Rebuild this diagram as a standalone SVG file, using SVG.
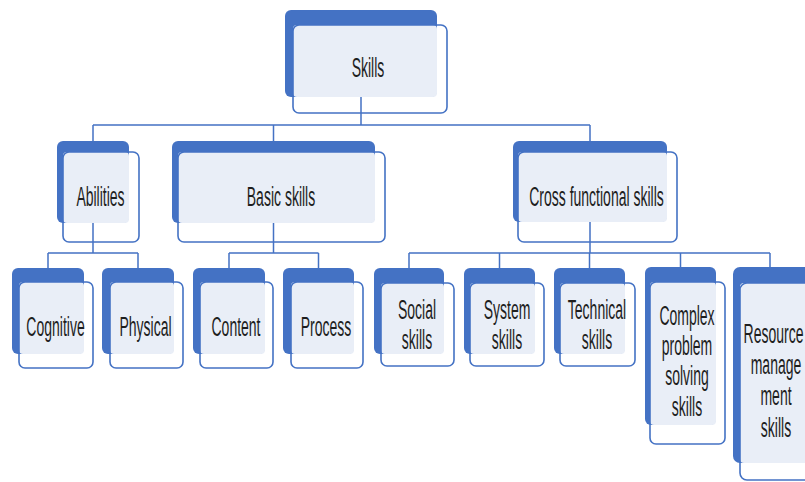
<svg xmlns="http://www.w3.org/2000/svg" width="805" height="482" viewBox="0 0 805 482">
  <style>
    .back { fill: #4472C4; }
    .tint { fill: #E9EEF7; }
    .front { fill: none; stroke: #4472C4; stroke-width: 1.6; }
    .link { fill: none; stroke: #4472C4; stroke-width: 1.5; }
    .lbl { font-family: "Liberation Sans", Arial, sans-serif; font-size: 14px; fill: #1e1e1e; text-anchor: middle; }
  </style>
  <rect width="805" height="482" fill="#ffffff"/>

  <!-- connectors: parent bottom centre -> bus -> child top centre -->
  <g id="connectors">
    <path class="link" d="M361,97 V125 M93,125 H590 M93,125 V141 M273.5,125 V141 M590,125 V141"/>
    <path class="link" d="M93,223 V253 M48,253 H138 M48,253 V268 M138,253 V268"/>
    <path class="link" d="M273.5,223 V253 M229,253 H318.5 M229,253 V268 M318.5,253 V268"/>
    <path class="link" d="M590,222 V253 M409,253 H770 M409,253 V268 M499.5,253 V268 M589.5,253 V268 M680.5,253 V268 M770,253 V268"/>
  </g>

  <!-- root -->
  <g id="node-skills">
    <rect class="back" x="285" y="10" width="152" height="87" rx="6"/>
    <rect class="tint" x="293" y="25" width="144" height="72" rx="4"/>
    <rect class="front" x="293" y="25" width="154" height="88" rx="6"/>
    <text class="lbl" transform="translate(368,77) scale(1,2)">Skills</text>
  </g>

  <!-- level 1 -->
  <g id="node-abilities">
    <rect class="back" x="57" y="141" width="72" height="82" rx="6"/>
    <rect class="tint" x="63" y="152" width="66" height="71" rx="4"/>
    <rect class="front" x="63" y="152" width="76" height="90" rx="6"/>
    <text class="lbl" transform="translate(100.5,206) scale(1,2)">Abilities</text>
  </g>
  <g id="node-basic-skills">
    <rect class="back" x="172" y="141" width="203" height="82" rx="6"/>
    <rect class="tint" x="178" y="152" width="197" height="71" rx="4"/>
    <rect class="front" x="178" y="152" width="207" height="90" rx="6"/>
    <text class="lbl" transform="translate(281,206) scale(1,2)">Basic skills</text>
  </g>
  <g id="node-cross-functional">
    <rect class="back" x="513" y="141" width="154" height="81" rx="6"/>
    <rect class="tint" x="518" y="152" width="149" height="70" rx="4"/>
    <rect class="front" x="518" y="152" width="159" height="90" rx="6"/>
    <text class="lbl" transform="translate(596.5,206) scale(1,2)">Cross functional skills</text>
  </g>

  <!-- level 2 -->
  <g id="node-cognitive">
    <rect class="back" x="12" y="268" width="72" height="86" rx="6"/>
    <rect class="tint" x="19" y="282" width="65" height="72" rx="4"/>
    <rect class="front" x="19" y="282" width="74" height="86" rx="6"/>
    <text class="lbl" transform="translate(55.5,336) scale(1,2)">Cognitive</text>
  </g>
  <g id="node-physical">
    <rect class="back" x="102" y="268" width="72" height="86" rx="6"/>
    <rect class="tint" x="110" y="282" width="64" height="72" rx="4"/>
    <rect class="front" x="110" y="282" width="73" height="86" rx="6"/>
    <text class="lbl" transform="translate(145.5,336) scale(1,2)">Physical</text>
  </g>
  <g id="node-content">
    <rect class="back" x="193" y="268" width="72" height="86" rx="6"/>
    <rect class="tint" x="200" y="282" width="65" height="72" rx="4"/>
    <rect class="front" x="200" y="282" width="73" height="86" rx="6"/>
    <text class="lbl" transform="translate(236,336) scale(1,2)">Content</text>
  </g>
  <g id="node-process">
    <rect class="back" x="283" y="268" width="71" height="86" rx="6"/>
    <rect class="tint" x="291" y="282" width="63" height="72" rx="4"/>
    <rect class="front" x="291" y="282" width="72" height="86" rx="6"/>
    <text class="lbl" transform="translate(326,336) scale(1,2)">Process</text>
  </g>
  <g id="node-social-skills">
    <rect class="back" x="374" y="268" width="70" height="86" rx="6"/>
    <rect class="tint" x="381" y="283" width="63" height="71" rx="4"/>
    <rect class="front" x="381" y="283" width="73" height="83" rx="6"/>
    <text class="lbl" transform="translate(417,319) scale(1,2)">Social</text>
    <text class="lbl" transform="translate(417,349) scale(1,2)">skills</text>
  </g>
  <g id="node-system-skills">
    <rect class="back" x="464" y="268" width="71" height="86" rx="6"/>
    <rect class="tint" x="470" y="283" width="65" height="71" rx="4"/>
    <rect class="front" x="470" y="283" width="74" height="83" rx="6"/>
    <text class="lbl" transform="translate(507,319) scale(1,2)">System</text>
    <text class="lbl" transform="translate(507,349) scale(1,2)">skills</text>
  </g>
  <g id="node-technical-skills">
    <rect class="back" x="554" y="268" width="71" height="86" rx="6"/>
    <rect class="tint" x="560" y="283" width="65" height="71" rx="4"/>
    <rect class="front" x="560" y="283" width="75" height="83" rx="6"/>
    <text class="lbl" transform="translate(597,319) scale(1,2)">Technical</text>
    <text class="lbl" transform="translate(597,349) scale(1,2)">skills</text>
  </g>
  <g id="node-complex-problem-solving">
    <rect class="back" x="645" y="267" width="71" height="158" rx="6"/>
    <rect class="tint" x="650" y="282" width="66" height="143" rx="4"/>
    <rect class="front" x="650" y="282" width="75" height="162" rx="6"/>
    <text class="lbl" transform="translate(687,325) scale(1,2)">Complex</text>
    <text class="lbl" transform="translate(687,355) scale(1,2)">problem</text>
    <text class="lbl" transform="translate(687,385) scale(1,2)">solving</text>
    <text class="lbl" transform="translate(687,416) scale(1,2)">skills</text>
  </g>
  <g id="node-resource-management">
    <rect class="back" x="733" y="267" width="90" height="196" rx="7"/>
    <rect class="tint" x="740" y="283" width="83" height="180" rx="4"/>
    <rect class="front" x="740" y="283" width="90" height="197" rx="7"/>
    <text class="lbl" transform="translate(773.5,343) scale(1,2)">Resource</text>
    <text class="lbl" transform="translate(776,374) scale(1,2)">manage</text>
    <text class="lbl" transform="translate(776,405) scale(1,2)">ment</text>
    <text class="lbl" transform="translate(776,437) scale(1,2)">skills</text>
  </g>
</svg>
